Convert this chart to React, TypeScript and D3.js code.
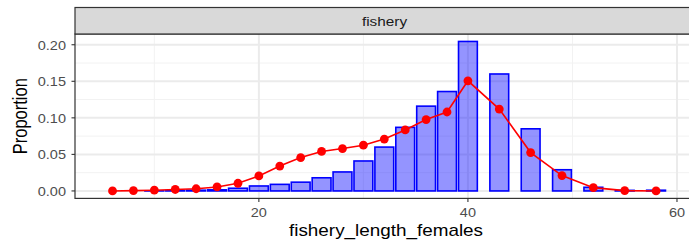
import React from 'react'
import * as d3 from 'd3'

// lengths of the bins and the two series
const lengths = [6, 8, 10, 12, 14, 16, 18, 20, 22, 24, 26, 28, 30, 32, 34, 36, 38, 40, 43, 46, 49, 52, 55, 58]
const observed = [0, 0, 0.0002, 0.0005, 0.001, 0.0015, 0.0037, 0.0068, 0.009, 0.012, 0.018, 0.026, 0.041, 0.06, 0.087, 0.116, 0.136, 0.2045, 0.16, 0.085, 0.029, 0.005, 0.0008, 0.001]
const expected = [0, 0.0005, 0.001, 0.002, 0.003, 0.0055, 0.0105, 0.0205, 0.034, 0.0457, 0.054, 0.058, 0.0626, 0.071, 0.0835, 0.0977, 0.108, 0.1507, 0.112, 0.0525, 0.021, 0.0045, 0.0005, 0]

const xTicks = [20, 40, 60]
const xMinor = [10, 30, 50]
const yTicks = [0, 0.05, 0.1, 0.15, 0.2]
const yMinor = [0.025, 0.075, 0.125, 0.175]

const panelLabel = 'fishery'
const xTitle = 'fishery_length_females'
const yTitle = 'Proportion'

const font = '"Liberation Sans", Arial, sans-serif'
// the source image is a bit wider than tall, so text is stretched sideways
const stretch = 1.18

type TxtProps = {
  x: number
  y: number
  size: number
  anchor?: 'start' | 'middle' | 'end'
  fill?: string
  children: React.ReactNode
}

const Txt: React.FunctionComponent<TxtProps> = ({ x, y, size, anchor = 'middle', fill = '#000', children }) => (
  <text
    transform={`translate(${x}, ${y}) scale(${stretch}, 1)`}
    textAnchor={anchor}
    fontSize={size}
    fill={fill}
  >
    {children}
  </text>
)

const App: React.FunctionComponent = () => {
  const width = 689
  const height = 241
  const stripTop = 7.5
  const panel = { left: 75, right: 693.6, top: 34, bottom: 198.4 }

  const barWidth = 1.8

  const xScale = d3.scaleLinear().domain([2.41, 61.59]).range([panel.left, panel.right])
  const yScale = d3.scaleLinear().domain([-0.0102, 0.2147]).range([panel.bottom, panel.top])

  const points = lengths.map((l, i) => ({ l, v: expected[i] }))
  const line = d3
    .line<{ l: number; v: number }>()
    .x(d => xScale(d.l))
    .y(d => yScale(d.v))

  return (
    <svg
      width={width}
      height={height}
      style={{ position: 'absolute', left: 0, top: 0, background: '#fff' }}
      fontFamily={font}
    >
      <rect x={0} y={0} width={width} height={height} fill="#fff" />

      {/* grid */}
      {yMinor.map(t => (
        <line key={'ym' + t} x1={panel.left} x2={panel.right} y1={yScale(t)} y2={yScale(t)} stroke="#f2f2f2" strokeWidth={1} />
      ))}
      {xMinor.map(t => (
        <line key={'xm' + t} x1={xScale(t)} x2={xScale(t)} y1={panel.top} y2={panel.bottom} stroke="#f2f2f2" strokeWidth={1} />
      ))}
      {yTicks.map(t => (
        <line key={'yg' + t} x1={panel.left} x2={panel.right} y1={yScale(t)} y2={yScale(t)} stroke="#ebebeb" strokeWidth={2} />
      ))}
      {xTicks.map(t => (
        <line key={'xg' + t} x1={xScale(t)} x2={xScale(t)} y1={panel.top} y2={panel.bottom} stroke="#ebebeb" strokeWidth={2} />
      ))}

      {/* bars */}
      {lengths.map((l, i) => {
        const x0 = xScale(l - barWidth / 2)
        const x1 = xScale(l + barWidth / 2)
        const y0 = yScale(0)
        const y1 = yScale(observed[i])
        return (
          <rect
            key={'b' + l}
            x={x0}
            y={y1}
            width={x1 - x0}
            height={Math.max(y0 - y1, 0)}
            fill="rgba(0,0,255,0.42)"
            stroke="#0000ff"
            strokeWidth={1.6}
          />
        )
      })}

      {/* expected line and points */}
      <path d={line(points) || ''} fill="none" stroke="#ff0000" strokeWidth={1.6} />
      {points.map(p => (
        <circle key={'p' + p.l} cx={xScale(p.l)} cy={yScale(p.v)} r={4.4} fill="#ff0000" />
      ))}

      {/* panel border */}
      <rect
        x={panel.left}
        y={panel.top}
        width={panel.right - panel.left}
        height={panel.bottom - panel.top}
        fill="none"
        stroke="#333333"
        strokeWidth={1.2}
      />

      {/* strip */}
      <rect
        x={panel.left}
        y={stripTop}
        width={panel.right - panel.left}
        height={panel.top - stripTop}
        fill="#d9d9d9"
        stroke="#333333"
        strokeWidth={1.2}
      />
      <Txt x={384.5} y={26} size={13} fill="#1a1a1a">
        {panelLabel}
      </Txt>

      {/* y axis */}
      {yTicks.map(t => (
        <g key={'yt' + t}>
          <line x1={panel.left - 3.5} x2={panel.left} y1={yScale(t)} y2={yScale(t)} stroke="#333333" strokeWidth={1.1} />
          <Txt x={66} y={yScale(t) + 4.8} size={12.3} anchor="end" fill="#4d4d4d">
            {t.toFixed(2)}
          </Txt>
        </g>
      ))}

      {/* x axis */}
      {xTicks.map(t => (
        <g key={'xt' + t}>
          <line x1={xScale(t)} x2={xScale(t)} y1={panel.bottom} y2={panel.bottom + 3.5} stroke="#333333" strokeWidth={1.1} />
          <Txt x={xScale(t)} y={panel.bottom + 18.5} size={12.3} fill="#4d4d4d">
            {t}
          </Txt>
        </g>
      ))}

      <Txt x={386} y={235.5} size={16}>
        {xTitle}
      </Txt>
      <text
        transform={`translate(26.5, ${(panel.top + panel.bottom) / 2}) rotate(-90) scale(1, ${stretch})`}
        textAnchor="middle"
        fontSize={16.5}
        fill="#000"
      >
        {yTitle}
      </text>
    </svg>
  )
}

export default App
